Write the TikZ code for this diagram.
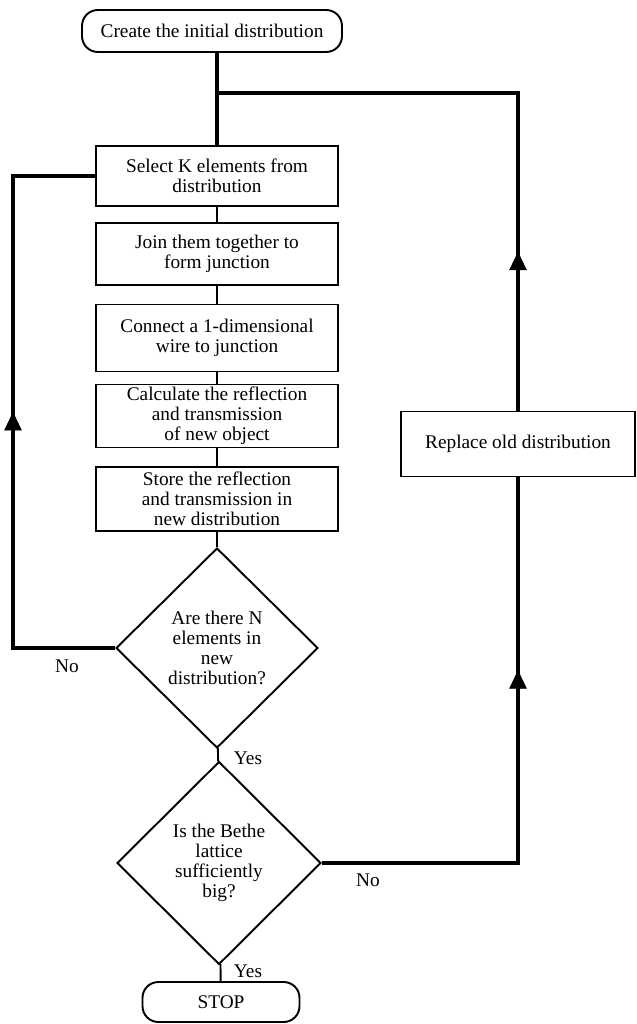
\documentclass[tikz,border=0pt]{standalone}
\usepackage{fontspec}
\setmainfont{Liberation Serif}
\usetikzlibrary{arrows.meta,shapes.geometric,decorations.markings}

\begin{document}
\begin{tikzpicture}[x=0.02cm,y=-0.02cm,
  font=\fontsize{11}{11.5}\selectfont,
  box/.style={draw,line width=1.1pt,align=center,inner sep=0pt,minimum width=4.84cm},
  term/.style={draw,rectangle,rounded corners=9pt,line width=1.1pt,inner sep=0pt},
  test/.style={draw,diamond,aspect=1,line width=1.1pt,align=center,inner sep=0pt},
  link/.style={line width=1.1pt},
  backline/.style={line width=1.8pt},
  midarrow/.style={postaction={decorate},decoration={markings,
    mark=at position .5 with {\arrow{Triangle[length=10.5pt,width=10pt]}}}}]
\useasboundingbox (0,0) rectangle (636,1024);

% main column
\node[term, minimum width=5.2cm, minimum height=0.84cm] (start) at (212,31) {Create the initial distribution};
\node[box, minimum height=1.2cm]  (select) at (217,176) {Select K elements from\\distribution};
\node[box, minimum height=1.24cm] (join)   at (217,254) {Join them together to\\form junction};
\node[box, minimum height=1.34cm] (wire)   at (217,338) {Connect a 1-dimensional\\wire to junction};
\node[box, minimum height=1.26cm] (calc)   at (217,416) {Calculate the reflection\\and transmission\\of new object};
\node[box, minimum height=1.28cm] (store)  at (217,499) {Store the reflection\\and transmission in\\new distribution};
\node[test, minimum width=4.04cm, minimum height=4cm]  (full) at (217,648) {Are there N\\elements in\\new\\distribution?};
\node[test, minimum width=4.08cm, minimum height=4.06cm] (big) at (219,863) {Is the Bethe\\lattice\\sufficiently\\big?};
\node[term, minimum width=3.14cm, minimum height=0.8cm] (stop) at (221,1002) {STOP};

% right branch
\node[box, minimum width=4.68cm, minimum height=1.3cm] (replace) at (518,444) {Replace old distribution};

\coordinate (rtop) at (518,93);
\coordinate (rbot) at (replace.south |- big.east);
\coordinate (ltop) at (13,0 |- select.west);
\coordinate (lbot) at (13,0 |- full.west);

% labels
\node (no1)  at (67,666)  {No};
\node (yes1) at (248,758) {Yes};
\node (no2)  at (368,880) {No};
\node (yes2) at (248,971) {Yes};

% connectors
\draw[backline] (start.south -| select.north) -- (select.north);
\draw[link] (select) -- (join);
\draw[link] (join) -- (wire);
\draw[link] (wire) -- (calc);
\draw[link] (calc) -- (store);
\draw[link] (store) -- (full);
\draw[link] (full) -- (big);
\draw[link] (big) -- (stop);

\draw[backline] (full.west) -- (lbot) -- (ltop) -- (select.west);
\path[midarrow] (lbot) -- (ltop);

\draw[backline] (big.east) -- (rbot) -- (replace.south);
\path[midarrow] (rbot) -- (replace.south);

\draw[backline] (replace.north) -- (rtop) -- (rtop -| select.north);
\path[midarrow] (replace.north) -- (rtop);
\end{tikzpicture}
\end{document}
